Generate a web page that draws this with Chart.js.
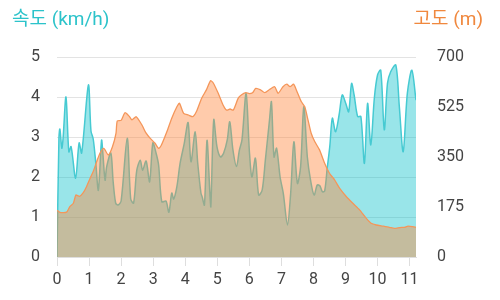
<!DOCTYPE html>
<html><head><meta charset="utf-8">
<script src="https://cdn.jsdelivr.net/npm/chart.js@4/dist/chart.umd.min.js"></script>
<style>html,body{margin:0;padding:0;background:#fff}#wrap{width:500px;height:300px;position:relative}</style>
</head><body><div id="wrap"><canvas id="c" width="500" height="300"></canvas></div>
<script>
const speedTitle = '속도 (km/h)';
const altTitle = '고도 (m)';
const speedDist = [0,0.06,0.09,0.15,0.19,0.28,0.37,0.44,0.58,0.69,0.77,0.98,1.06,1.13,1.21,1.29,1.39,1.43,1.5,1.55,1.68,1.75,1.83,1.9,2.0,2.19,2.3,2.39,2.49,2.6,2.67,2.78,2.89,2.99,3.09,3.17,3.27,3.4,3.49,3.58,3.64,3.74,3.84,3.97,4.09,4.18,4.31,4.39,4.49,4.53,4.6,4.68,4.77,4.8,4.89,4.99,5.1,5.2,5.31,5.39,5.49,5.6,5.69,5.77,5.9,6.0,6.08,6.19,6.29,6.4,6.5,6.63,6.69,6.77,6.85,6.96,7.06,7.19,7.29,7.39,7.5,7.6,7.7,7.81,7.91,8.02,8.12,8.2,8.28,8.35,8.43,8.51,8.59,8.69,8.8,8.9,9.01,9.1,9.19,9.27,9.38,9.48,9.59,9.69,9.79,9.9,10.0,10.1,10.21,10.31,10.41,10.57,10.68,10.8,10.93,11.07,11.2];
const speedVals = [0,2.97,3.2,2.72,2.97,4.0,2.63,2.76,1.97,2.85,2.6,4.3,3.15,2.95,2.35,1.67,2.92,2.6,1.92,2.26,2.6,1.9,1.35,1.3,1.4,2.97,1.45,1.35,2.17,2.42,2.17,2.4,1.88,2.85,2.6,2.3,1.38,1.4,1.12,1.6,1.45,1.76,2.34,2.84,3.36,2.38,3.13,2.35,1.6,1.5,1.3,2.92,1.59,1.26,3.43,2.76,2.5,2.6,2.92,3.38,2.67,2.26,2.67,2.92,4.09,2.67,2.0,2.47,1.55,1.67,2.42,3.43,3.88,2.5,2.72,2.0,1.59,0.8,1.59,2.88,1.84,2.26,3.76,2.5,1.92,1.55,1.8,1.78,1.63,1.65,2.22,2.76,3.47,3.13,3.55,4.05,3.84,3.63,4.34,4.05,3.51,3.51,2.34,3.84,2.8,3.97,4.55,4.67,3.18,4.34,4.63,4.8,3.76,2.63,4.09,4.67,3.92];
const altDist = [0,0.09,0.3,0.4,0.51,0.59,0.7,0.82,0.92,1.03,1.13,1.24,1.34,1.46,1.6,1.73,1.84,1.88,2.0,2.12,2.25,2.34,2.47,2.65,2.77,2.91,3.06,3.17,3.25,3.43,3.58,3.74,3.82,3.95,4.1,4.24,4.35,4.51,4.66,4.79,4.87,5.03,5.18,5.29,5.4,5.5,5.65,5.75,5.89,6.0,6.1,6.2,6.35,6.48,6.64,6.79,6.9,7.05,7.17,7.27,7.38,7.47,7.62,7.73,7.83,7.93,8.04,8.19,8.35,8.5,8.66,8.82,9.03,9.23,9.44,9.65,9.8,9.96,10.17,10.37,10.53,10.7,10.84,10.95,11.1,11.2];
const altVals = [164,156,157,176,188,217,212,225,246,275,299,334,363,380,357,386,433,476,478,505,493,480,491,462,435,415,398,380,390,439,486,526,538,503,497,491,509,555,585,617,610,573,532,514,518,514,555,567,575,572,575,590,585,575,587,596,573,596,605,596,605,584,544,526,480,433,404,375,328,293,270,240,211,188,165,135,118,112,108,104,100,103,104,108,106,104];
const xTickStep = 1;
const speedRange = [0, 5], speedStep = 1;
const altRange = [0, 700], altStep = 175;

Chart.defaults.font.family = 'Roboto, "Noto Sans CJK KR", sans-serif';
const titlesPlugin = {
  id: 'titles',
  afterDraw(chart) {
    const ctx = chart.ctx;
    ctx.save();
    ctx.font = '19px Roboto, "Noto Sans CJK KR", sans-serif';
    ctx.textBaseline = 'middle';
    ctx.fillStyle = '#2cc3ca';
    ctx.textAlign = 'left';
    ctx.fillText(speedTitle, 12, 20);
    ctx.fillStyle = '#f0883e';
    ctx.textAlign = 'right';
    ctx.fillText(altTitle, 483, 20);
    ctx.restore();
  }
};
const tickFont = { size: 16 };
new Chart(document.getElementById('c'), {
  type: 'line',
  data: {
    datasets: [
      {
        label: altTitle,
        data: altDist.map((d, i) => ({ x: d, y: altVals[i] })),
        yAxisID: 'y1',
        order: 1,
        borderColor: 'rgb(244,150,90)',
        backgroundColor: 'rgba(255,130,55,0.42)',
        borderWidth: 1.3,
        pointRadius: 0,
        tension: 0.2,
        fill: 'origin'
      },
      {
        label: speedTitle,
        data: speedDist.map((d, i) => ({ x: d, y: speedVals[i] })),
        yAxisID: 'y',
        order: 2,
        borderColor: 'rgb(70,202,210)',
        backgroundColor: 'rgba(0,190,200,0.4)',
        borderWidth: 1.5,
        pointRadius: 0,
        tension: 0.3,
        fill: 'origin'
      }
    ]
  },
  options: {
    responsive: false,
    animation: false,
    devicePixelRatio: 1,
    layout: { padding: { top: 57, bottom: 0, left: 0, right: 0 } },
    plugins: { legend: { display: false }, tooltip: { enabled: false }, title: { display: false } },
    scales: {
      x: {
        type: 'linear', min: 0, max: speedDist[speedDist.length - 1],
        ticks: { stepSize: xTickStep, includeBounds: false, font: tickFont, color: '#444', padding: 4, maxRotation: 0 },
        grid: { drawOnChartArea: false, drawTicks: true, tickLength: 9, color: '#dedede' },
        border: { color: '#dedede' },
        afterFit(s) { s.height = 43; }
      },
      y: {
        position: 'left', min: speedRange[0], max: speedRange[1],
        ticks: { stepSize: speedStep, font: tickFont, color: '#444', padding: 17 },
        grid: { color: '#e3e3e3', drawTicks: false },
        border: { display: false },
        afterFit(s) { s.width = 57; }
      },
      y1: {
        position: 'right', min: altRange[0], max: altRange[1],
        ticks: { stepSize: altStep, font: tickFont, color: '#444', padding: 21 },
        grid: { drawOnChartArea: false, drawTicks: false },
        border: { display: false },
        afterFit(s) { s.width = 84; }
      }
    }
  },
  plugins: [titlesPlugin]
});
</script></body></html>
